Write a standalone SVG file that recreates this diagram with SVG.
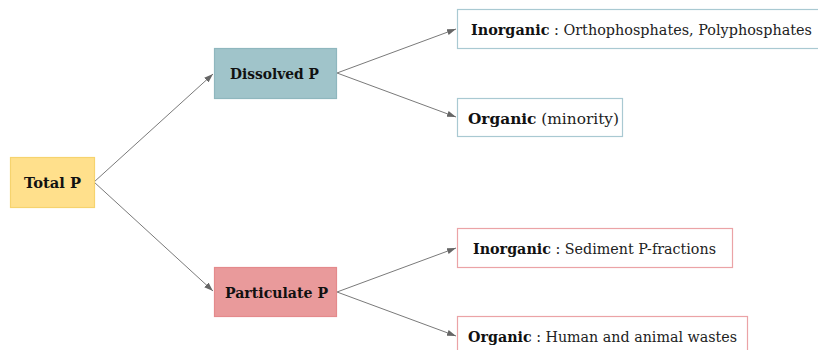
<svg xmlns="http://www.w3.org/2000/svg" width="818" height="350" viewBox="0 0 818 350">
<style>
.t{font-family:"DejaVu Serif","Liberation Serif",serif;font-size:14px;fill:#222;}
.m{font-size:15px;}
.b{font-weight:bold;fill:#111;}
.c{stroke:#7a7a7a;stroke-width:1;fill:none;marker-end:url(#ah);}
.leafB{fill:#fff;stroke:#a9c9d2;stroke-width:1.2;}
.leafR{fill:#fff;stroke:#eba3a6;stroke-width:1.2;}
</style>
<defs>
<marker id="ah" viewBox="0 0 10 10" refX="10" refY="5" markerWidth="9" markerHeight="9" markerUnits="userSpaceOnUse" orient="auto">
<path d="M0,1.5 L10,5 L0,8.5 Z" fill="#666"/>
</marker>
</defs>
<rect width="818" height="350" fill="#fff"/>
<g id="connectors">
<line class="c" x1="94" y1="182" x2="213" y2="74"/>
<line class="c" x1="94" y1="182" x2="213" y2="291"/>
<line class="c" x1="337" y1="73" x2="456" y2="29"/>
<line class="c" x1="337" y1="73" x2="456" y2="117"/>
<line class="c" x1="337" y1="292" x2="456" y2="248"/>
<line class="c" x1="337" y1="292" x2="456" y2="336"/>
</g>
<g id="total">
<rect x="10.5" y="157.5" width="84" height="50" fill="#ffe08c" stroke="#f6d36e" stroke-width="1.2"/>
<text class="t m b" x="24" y="188" textLength="57" lengthAdjust="spacingAndGlyphs">Total P</text>
</g>
<g id="dissolved">
<rect x="214.5" y="48.5" width="122" height="50" fill="#a0c4ca" stroke="#8fb7be" stroke-width="1.2"/>
<text class="t m b" x="230" y="79" textLength="89" lengthAdjust="spacingAndGlyphs">Dissolved P</text>
</g>
<g id="particulate">
<rect x="214.5" y="267.5" width="122" height="49" fill="#e99a9b" stroke="#e48a8c" stroke-width="1.2"/>
<text class="t m b" x="225" y="298" textLength="103" lengthAdjust="spacingAndGlyphs">Particulate P</text>
</g>
<g id="inorg-d">
<rect class="leafB" x="457.5" y="9.5" width="362" height="39"/>
<text class="t" x="471" y="35" textLength="341" lengthAdjust="spacingAndGlyphs"><tspan class="b">Inorganic</tspan> : Orthophosphates, Polyphosphates</text>
</g>
<g id="org-d">
<rect class="leafB" x="457.5" y="98.5" width="165" height="38"/>
<text class="t" x="468" y="124" textLength="151" lengthAdjust="spacingAndGlyphs"><tspan class="b">Organic</tspan> (minority)</text>
</g>
<g id="inorg-p">
<rect class="leafR" x="457.5" y="228.5" width="275" height="39"/>
<text class="t" x="473" y="254" textLength="243" lengthAdjust="spacingAndGlyphs"><tspan class="b">Inorganic</tspan> : Sediment P-fractions</text>
</g>
<g id="org-p">
<rect class="leafR" x="457.5" y="316.5" width="290" height="40"/>
<text class="t" x="468" y="342" textLength="269" lengthAdjust="spacingAndGlyphs"><tspan class="b">Organic</tspan> : Human and animal wastes</text>
</g>
</svg>
